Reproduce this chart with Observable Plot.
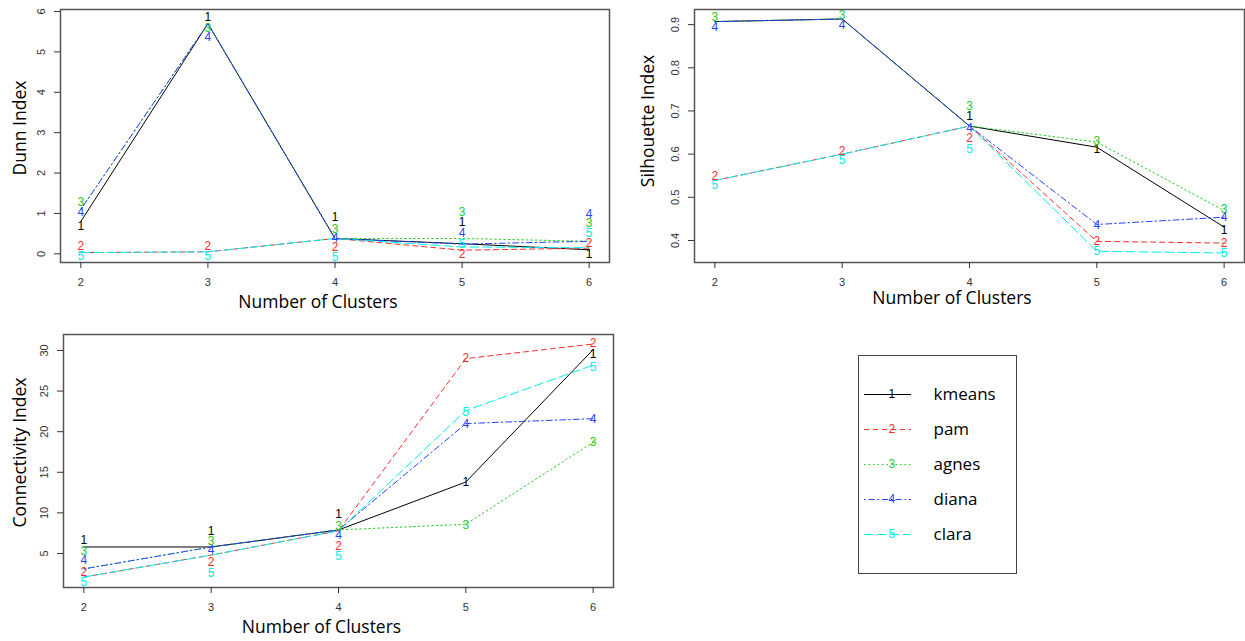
<!DOCTYPE html>
<html><head><meta charset="utf-8">
<script src="https://cdn.jsdelivr.net/npm/d3@7"></script>
<script src="https://cdn.jsdelivr.net/npm/@observablehq/plot@0.6"></script>
<style>
body{margin:0;background:#fff;}
#wrap{position:relative;width:1245px;height:641px;overflow:hidden;background:#fff;}
#wrap > svg, #wrap > figure{position:absolute;margin:0;overflow:visible;}
</style></head><body><div id="wrap"></div>
<script>
// ---- data ----
const clusters = [2, 3, 4, 5, 6];
const methods = ["kmeans", "pam", "agnes", "diana", "clara"];
const methodCodes = ["1", "2", "3", "4", "5"];
const methodColors = ["#000000", "#ff2a2a", "#22cc22", "#2244ff", "#00eeee"];
const methodDash = ["none", "5,4", "1.5,3", "1.5,3,6,3", "9,4"];

// Dunn index (line values)
const dunnKmeans = [0.80, 5.70, 0.38, 0.25, 0.10];
const dunnPam    = [0.03, 0.05, 0.38, 0.09, 0.14];
const dunnAgnes  = [1.10, 5.70, 0.38, 0.38, 0.31];
const dunnDiana  = [1.10, 5.70, 0.38, 0.24, 0.31];
const dunnClara  = [0.03, 0.05, 0.38, 0.17, 0.15];
// Dunn index (where the method numbers are printed)
const dunnMarkKmeans = [0.68, 5.86, 0.90, 0.78, 0.00];
const dunnMarkPam    = [0.18, 0.18, 0.16, -0.02, 0.26];
const dunnMarkAgnes  = [1.27, 5.59, 0.62, 1.03, 0.77];
const dunnMarkDiana  = [1.02, 5.37, 0.40, 0.52, 0.99];
const dunnMarkClara  = [-0.07, -0.07, -0.09, 0.25, 0.52];
const dunnTicks = [0, 1, 2, 3, 4, 5, 6];

// Silhouette index
const silKmeans = [0.907, 0.913, 0.665, 0.616, 0.431];
const silPam    = [0.539, 0.600, 0.665, 0.398, 0.394];
const silAgnes  = [0.907, 0.913, 0.665, 0.628, 0.469];
const silDiana  = [0.907, 0.913, 0.665, 0.437, 0.454];
const silClara  = [0.539, 0.600, 0.665, 0.375, 0.371];
const silMarkKmeans = [null, null, 0.687, 0.612, 0.425];
const silMarkPam    = [0.550, 0.608, 0.637, 0.398, 0.394];
const silMarkAgnes  = [0.918, 0.921, 0.710, 0.629, 0.473];
const silMarkDiana  = [0.895, 0.898, 0.661, 0.435, 0.453];
const silMarkClara  = [0.527, 0.585, 0.612, 0.375, 0.371];
const silTicks = [0.4, 0.5, 0.6, 0.7, 0.8, 0.9];

// Connectivity index
const conKmeans = [5.8, 5.8, 7.9, 13.8, 30.1];
const conPam    = [2.1, 4.8, 7.8, 29.0, 30.8];
const conAgnes  = [3.1, 5.8, 7.9, 8.6, 18.7];
const conDiana  = [3.1, 5.8, 7.9, 21.0, 21.6];
const conClara  = [2.1, 4.8, 7.8, 22.6, 28.2];
const conMarkKmeans = [6.6, 7.8, 9.8, 13.8, 29.6];
const conMarkPam    = [2.7, 3.9, 5.9, 29.0, 30.9];
const conMarkAgnes  = [5.3, 6.5, 8.4, 8.5, 18.7];
const conMarkDiana  = [4.2, 5.4, 7.3, 20.9, 21.6];
const conMarkClara  = [1.5, 2.6, 4.7, 22.4, 27.9];
const conTicks = [5, 10, 15, 20, 25, 30];

const xLabel = "Number of Clusters";

// ---- drawing ----
const wrap = document.getElementById("wrap");

function panel({values, marks: markVals, yDomain, yTicks, yLabel, width, height, margin, left, top, yTitleDx, yTitleDy, xTitleDx, xTitleDy}) {
  const marks = [];
  values.forEach((vals, i) => {
    const rows = clusters.map((c, j) => ({c, v: vals[j]}));
    marks.push(Plot.line(rows, {x: "c", y: "v", stroke: methodColors[i], strokeWidth: 1, strokeDasharray: methodDash[i]}));
  });
  markVals.forEach((vals, i) => {
    const rows = clusters.map((c, j) => ({c, v: vals[j]})).filter(d => d.v != null);
    marks.push(Plot.text(rows, {x: "c", y: "v", text: () => methodCodes[i], fill: methodColors[i], fontSize: 12, fontFamily: "Liberation Sans, Arial, sans-serif"}));
  });
  marks.push(Plot.frame({stroke: "#555", strokeWidth: 1.5}));
  marks.push(Plot.axisX({ticks: clusters, tickSize: 6, tickPadding: 10, label: null, tickFormat: d3.format("d")}));
  marks.push(Plot.axisY({ticks: yTicks, tickSize: 6, tickPadding: 10, tickRotate: -90, label: null, tickFormat: d => String(d)}));
  marks.push(Plot.text([yLabel], {text: d => d, frameAnchor: "left", textAnchor: "middle", rotate: -90, dx: yTitleDx, dy: yTitleDy, fontSize: 17.5, fontFamily: "Open Sans", fill: "#000"}));
  marks.push(Plot.text([xLabel], {text: d => d, frameAnchor: "bottom", textAnchor: "middle", dx: xTitleDx, dy: xTitleDy, fontSize: 17.5, fontFamily: "Open Sans", fill: "#000"}));
  const svg = Plot.plot({
    width, height,
    marginLeft: margin[0], marginRight: margin[1], marginTop: margin[2], marginBottom: margin[3],
    x: {domain: [1.84, 6.16]},
    y: {domain: yDomain},
    style: {fontFamily: "Liberation Sans, Arial, sans-serif", fontSize: "11px", color: "#333", background: "transparent", overflow: "visible"},
    marks
  });
  svg.style.left = left + "px";
  svg.style.top = top + "px";
  wrap.appendChild(svg);
}

panel({
  values: [dunnKmeans, dunnPam, dunnAgnes, dunnDiana, dunnClara],
  marks: [dunnMarkKmeans, dunnMarkPam, dunnMarkAgnes, dunnMarkDiana, dunnMarkClara],
  yDomain: [-0.215, 6.05], yTicks: dunnTicks, yLabel: "Dunn Index",
  width: 620, height: 310, margin: [60, 11, 9, 48], left: 0, top: 0,
  yTitleDx: -40, yTitleDy: -8, xTitleDx: -17, xTitleDy: 45
});

panel({
  values: [silKmeans, silPam, silAgnes, silDiana, silClara],
  marks: [silMarkKmeans, silMarkPam, silMarkAgnes, silMarkDiana, silMarkClara],
  yDomain: [0.349, 0.935], yTicks: silTicks, yLabel: "Silhouette Index",
  width: 625, height: 310, margin: [74, 1, 9, 48], left: 620, top: 0,
  yTitleDx: -46, yTitleDy: -15, xTitleDx: -17.5, xTitleDy: 41
});

panel({
  values: [conKmeans, conPam, conAgnes, conDiana, conClara],
  marks: [conMarkKmeans, conMarkPam, conMarkAgnes, conMarkDiana, conMarkClara],
  yDomain: [0.81, 31.97], yTicks: conTicks, yLabel: "Connectivity Index",
  width: 620, height: 321, margin: [63, 7, 14, 54], left: 0, top: 320,
  yTitleDx: -43.5, yTitleDy: -8.5, xTitleDx: -17, xTitleDy: 45
});

// legend
const legend = Plot.plot({
  width: 158, height: 218, margin: 0,
  y: {type: "point", domain: methods, padding: 1.05, axis: null},
  color: {type: "identity"},
  style: {fontFamily: "Liberation Sans, Arial, sans-serif", fontSize: "11px", background: "transparent", overflow: "visible"},
  marks: [
    Plot.frame({stroke: "#444", strokeWidth: 1}),
    ...methods.map((m, i) => Plot.ruleY([m], {y: d => d, stroke: methodColors[i], strokeWidth: 1, strokeDasharray: methodDash[i], insetLeft: 6, insetRight: 105})),
    Plot.text(methods, {y: d => d, text: (d, i) => methodCodes[i], fill: (d, i) => methodColors[i], frameAnchor: "left", dx: 30, fontSize: 12}),
    Plot.text(methods, {y: d => d, text: d => d, frameAnchor: "left", dx: 75, textAnchor: "start", fontFamily: "Open Sans", fontSize: 17, fill: "#000"})
  ]
});
legend.style.left = "858px";
legend.style.top = "355px";
wrap.appendChild(legend);
</script>
</body></html>
